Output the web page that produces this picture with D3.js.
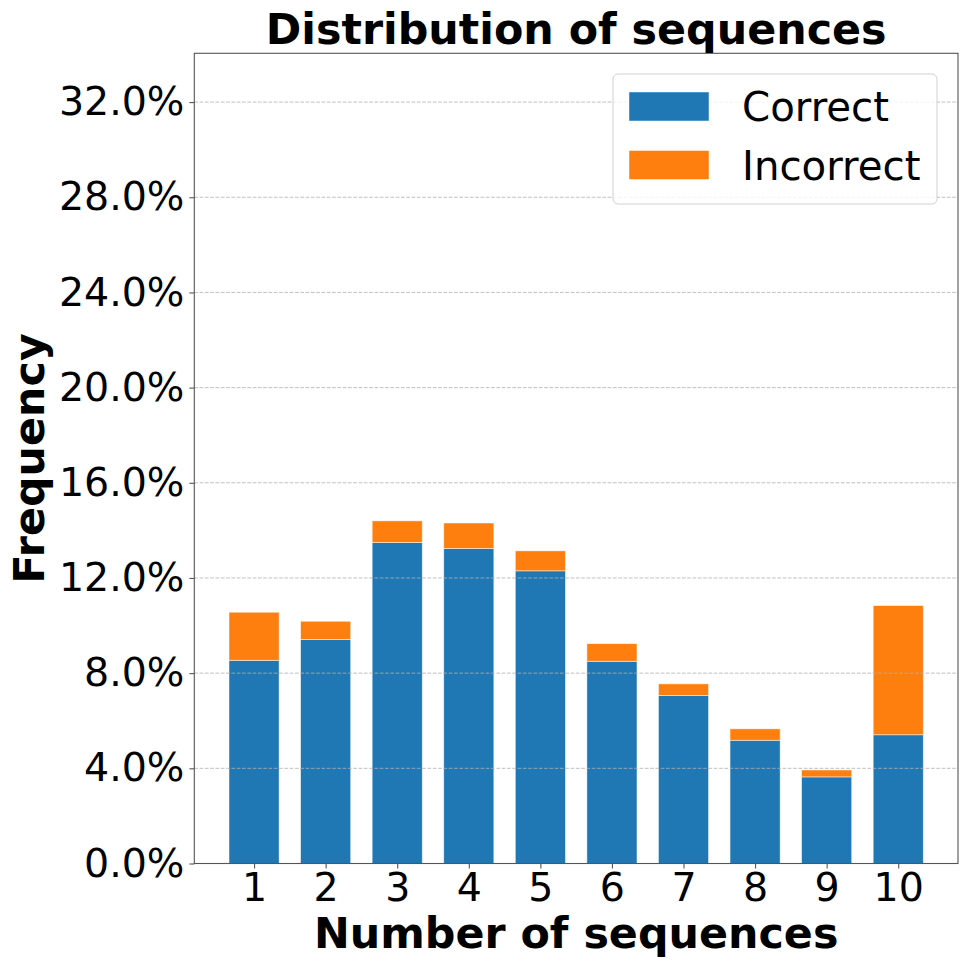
<!DOCTYPE html>
<html>
<head>
<meta charset="utf-8">
<script src="https://cdn.jsdelivr.net/npm/d3@7"></script>
<style>
  body { margin: 0; background: #fff; }
  text { font-family: "DejaVu Sans", sans-serif; }
</style>
</head>
<body>
<div id="chart"></div>
<script>
// values (percent)
var categories = [1, 2, 3, 4, 5, 6, 7, 8, 9, 10];
var correct   = [8.54, 9.41, 13.49, 13.24, 12.30, 8.50, 7.06, 5.18, 3.64, 5.41];
var incorrect = [2.02, 0.77, 0.91, 1.07, 0.84, 0.74, 0.49, 0.48, 0.29, 5.43];
var yTicks = [0, 4, 8, 12, 16, 20, 24, 28, 32];
var seriesNames = ['Correct', 'Incorrect'];
var colors = ['#1f77b4', '#ff7f0e'];

var width = 969, height = 969;
var margin = {top: 53.3, right: 11, bottom: 105.5, left: 194.3};
var innerW = width - margin.left - margin.right;
var innerH = height - margin.top - margin.bottom;

var svg = d3.select('#chart').append('svg')
	.attr('width', width)
	.attr('height', height);

var g = svg.append('g').attr('transform', 'translate(' + margin.left + ',' + margin.top + ')');

var barW = 0.7;
var x = d3.scaleLinear()
	.domain([1 - barW / 2 - 0.485, 10 + barW / 2 + 0.485])
	.range([0, innerW]);

var y = d3.scaleLinear()
	.domain([0, 34.05])
	.range([innerH, 0]);

var rows = categories.map(function(c, i){
	return {cat: c, correct: correct[i], incorrect: incorrect[i]};
});
var stacked = d3.stack().keys(['correct', 'incorrect'])(rows);

// bars
g.selectAll('g.layer')
	.data(stacked)
	.enter().append('g')
	.attr('class', 'layer')
	.attr('fill', function(d, i){ return colors[i]; })
	.selectAll('rect')
	.data(function(d){ return d; })
	.enter().append('rect')
	.attr('x', function(d){ return x(d.data.cat - barW / 2); })
	.attr('width', x(barW) - x(0))
	.attr('y', function(d){ return y(d[1]); })
	.attr('height', function(d){ return y(d[0]) - y(d[1]); })
	.attr('stroke', '#fff')
	.attr('stroke-opacity', 0.6)
	.attr('stroke-width', 0.8);

// grid on top of bars
g.append('g')
	.attr('class', 'grid')
	.selectAll('line')
	.data(yTicks.slice(1))
	.enter().append('line')
	.attr('x1', 0)
	.attr('x2', innerW)
	.attr('y1', function(d){ return y(d); })
	.attr('y2', function(d){ return y(d); })
	.attr('stroke', '#b0b0b0')
	.attr('stroke-opacity', 0.8)
	.attr('stroke-width', 1)
	.attr('stroke-dasharray', '3.7,1.6');

// axes
var yAxis = d3.axisLeft(y)
	.tickValues(yTicks)
	.tickFormat(function(d){ return d.toFixed(1) + '%'; })
	.tickSize(4.9)
	.tickPadding(5);

var xAxis = d3.axisBottom(x)
	.tickValues(categories)
	.tickFormat(d3.format('d'))
	.tickSize(4.9)
	.tickPadding(5);

var ya = g.append('g').attr('class', 'y-axis').call(yAxis);
var xa = g.append('g').attr('class', 'x-axis')
	.attr('transform', 'translate(0,' + innerH + ')')
	.call(xAxis);

[ya, xa].forEach(function(a){
	a.select('.domain').remove();
	a.selectAll('.tick line').attr('stroke', '#555').attr('stroke-width', 1.1);
	a.selectAll('.tick text')
		.attr('fill', '#000')
		.style('font-size', '39.5px')
		.style('font-family', '"DejaVu Sans", sans-serif');
});

// frame
g.append('rect')
	.attr('x', 0).attr('y', 0)
	.attr('width', innerW).attr('height', innerH)
	.attr('fill', 'none')
	.attr('stroke', '#555')
	.attr('stroke-width', 1.1);

// legend
var lg = g.append('g').attr('class', 'legend')
	.attr('transform', 'translate(' + (613 - margin.left) + ',' + (74 - margin.top) + ')');

lg.append('rect')
	.attr('width', 324).attr('height', 130)
	.attr('rx', 5).attr('ry', 5)
	.attr('fill', '#fff')
	.attr('fill-opacity', 0.8)
	.attr('stroke', '#d0d0d0')
	.attr('stroke-width', 1);

var item = lg.selectAll('g.item')
	.data(seriesNames)
	.enter().append('g')
	.attr('class', 'item')
	.attr('transform', function(d, i){ return 'translate(0,' + (i * 58.5) + ')'; });

item.append('rect')
	.attr('x', 16).attr('y', 18)
	.attr('width', 80).attr('height', 29)
	.attr('fill', function(d, i){ return colors[i]; })
	.attr('stroke', '#fff')
	.attr('stroke-opacity', 0.6)
	.attr('stroke-width', 0.8);

item.append('text')
	.attr('x', 129).attr('y', 47)
	.style('font-size', '40.3px')
	.attr('fill', '#000')
	.text(function(d){ return d; });

// title and labels
svg.append('text')
	.attr('x', margin.left + innerW / 2)
	.attr('y', 44)
	.attr('text-anchor', 'middle')
	.style('font-size', '42.8px')
	.style('font-weight', 'bold')
	.text('Distribution of sequences');

svg.append('text')
	.attr('x', margin.left + innerW / 2)
	.attr('y', 948)
	.attr('text-anchor', 'middle')
	.style('font-size', '42.8px')
	.style('font-weight', 'bold')
	.text('Number of sequences');

svg.append('text')
	.attr('transform', 'translate(44,' + (margin.top + innerH / 2) + ') rotate(-90)')
	.attr('text-anchor', 'middle')
	.style('font-size', '42.8px')
	.style('font-weight', 'bold')
	.text('Frequency');
</script>
</body>
</html>
